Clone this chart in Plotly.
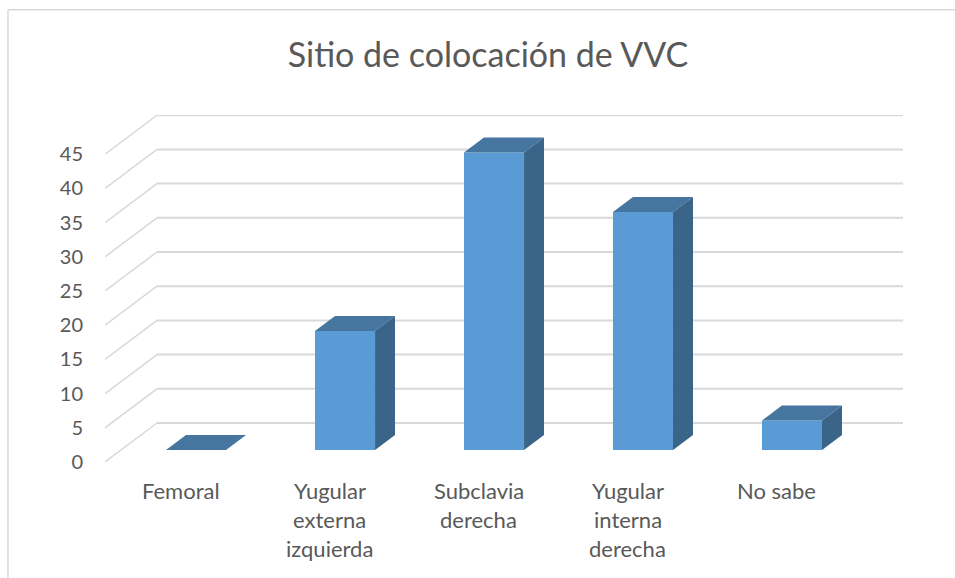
import plotly.graph_objects as go

# Data
categories = ["Femoral", "Yugular<br>externa<br>izquierda", "Subclavia<br>derecha", "Yugular<br>interna<br>derecha", "No sabe"]
values = [0, 17.4, 43.5, 34.8, 4.3]
y_ticks = [0, 5, 10, 15, 20, 25, 30, 35, 40, 45]

# Pseudo 3D geometry, in axis units
bar_width = 0.403
floor = 1.75        # front of the bars sits a little behind the front of the floor
bar_dx, bar_dy = 0.134, 2.2
wall_dx, wall_dy = 0.349, 5.7
x_range = [-0.611, 4.745]
y_range = [0, 50.73]
label_shift = -0.104

FONT = "Lato"
TEXT = "#595959"
GRID = "#d9d9d9"
FRONT = "#5b9bd5"
TOP = "#46759f"
SIDE = "#3a6488"

fig = go.Figure()

# front faces
fig.add_trace(go.Bar(
    x=list(range(len(values))), y=values, base=floor, width=bar_width,
    marker=dict(color=FRONT, line=dict(width=0)), showlegend=False,
))

# top and side faces
for i, v in enumerate(values):
    left, right = i - bar_width / 2, i + bar_width / 2
    top = floor + v
    fig.add_trace(go.Scatter(
        x=[left, right, right + bar_dx, left + bar_dx, left],
        y=[top, top, top + bar_dy, top + bar_dy, top],
        mode="lines", fill="toself", fillcolor=TOP, line=dict(width=0), showlegend=False,
    ))
    if v > 0:
        fig.add_trace(go.Scatter(
            x=[right, right + bar_dx, right + bar_dx, right, right],
            y=[floor, floor + bar_dy, top + bar_dy, top, floor],
            mode="lines", fill="toself", fillcolor=SIDE, line=dict(width=0), showlegend=False,
        ))

# gridlines: diagonal on the side wall, then along the back wall
for t in y_ticks:
    fig.add_shape(type="line", layer="below", x0=x_range[0], y0=t, x1=x_range[0] + wall_dx, y1=t + wall_dy,
                  line=dict(color=GRID, width=1.5))
    fig.add_shape(type="line", layer="below", x0=x_range[0] + wall_dx, y0=t + wall_dy, x1=x_range[1], y1=t + wall_dy,
                  line=dict(color=GRID, width=2))

# chart frame, left and top only
fig.add_shape(type="line", xref="paper", yref="paper", x0=-0.1216, y0=-0.34, x1=-0.1216, y1=1.303,
              line=dict(color="#d9d9d9", width=1.5))
fig.add_shape(type="line", xref="paper", yref="paper", x0=-0.1216, y0=1.303, x1=1.07, y1=1.303,
              line=dict(color="#d9d9d9", width=1.5))

# category labels, one annotation per line to get the wide line spacing
for i, label in enumerate(categories):
    for n, line in enumerate(label.split("<br>")):
        fig.add_annotation(
            x=i + label_shift, y=0, xref="x", yref="paper", text=line, showarrow=False,
            yanchor="middle", yshift=-28 - 29 * n, font=dict(family=FONT, size=22, color=TEXT),
        )

fig.update_layout(
    width=955, height=578,
    margin=dict(l=105, r=52, t=115, b=116),
    paper_bgcolor="white", plot_bgcolor="rgba(0,0,0,0)",
    title=dict(text="Sitio de colocación de VVC", x=0.511, xanchor="center", y=0.904, yanchor="middle",
               font=dict(family=FONT, size=34, color=TEXT)),
    xaxis=dict(range=x_range, showgrid=False, zeroline=False, showline=False, showticklabels=False, ticks=""),
    yaxis=dict(range=y_range, showgrid=False, zeroline=False, showline=False, tickmode="array", tickvals=y_ticks,
               ticks="", ticklabelstandoff=21, tickfont=dict(family=FONT, size=20, color=TEXT)),
    showlegend=False,
)

# the page's default body margin would push the chart off by 8px
fig.write_html("out.html", config=dict(displayModeBar=False), post_script="document.body.style.margin = '0';")
